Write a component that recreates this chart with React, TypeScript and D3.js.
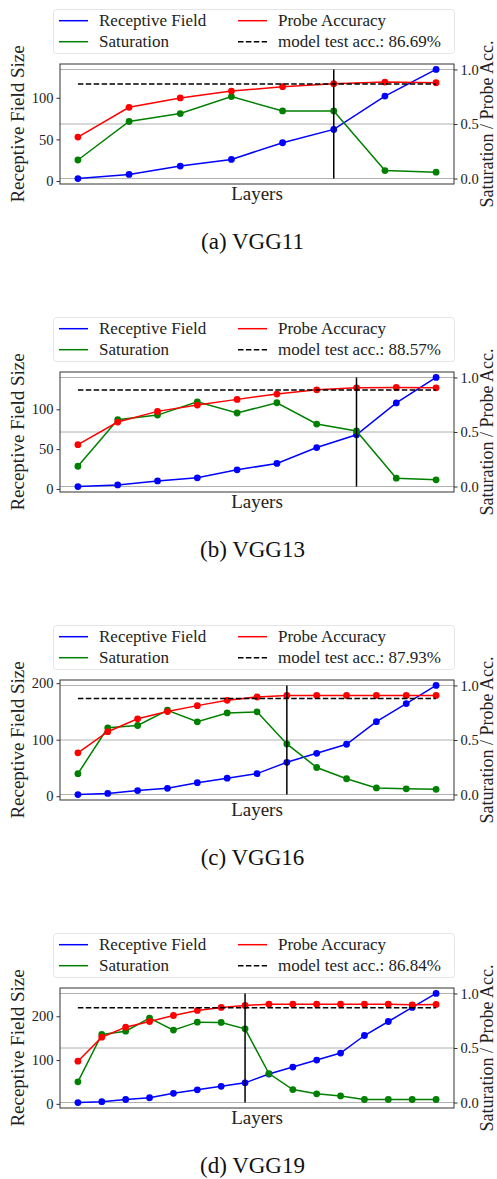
import * as d3 from 'd3';
import { useEffect, useRef } from 'react';

const BLUE = '#0000ff';
const GREEN = '#008000';
const RED = '#ff0000';
const SERIF = '"Liberation Serif", "Times New Roman", serif';

// receptive field size per layer
const receptive11 = [3, 8, 18, 26, 46, 62, 102, 134];
const receptive13 = [3, 5, 10, 14, 24, 32, 52, 68, 108, 140];
const receptive16 = [3, 5, 10, 14, 24, 32, 40, 60, 76, 92, 132, 164, 196];
const receptive19 = [3, 5, 10, 14, 24, 32, 40, 48, 68, 84, 100, 116, 156, 188, 220, 252];

// saturation per layer
const saturation11 = [0.17, 0.523, 0.596, 0.751, 0.62, 0.62, 0.073, 0.058];
const saturation13 = [0.186, 0.613, 0.655, 0.777, 0.674, 0.768, 0.573, 0.509, 0.077, 0.062];
const saturation16 = [0.191, 0.612, 0.633, 0.773, 0.667, 0.748, 0.758, 0.464, 0.248, 0.145, 0.061, 0.052, 0.048];
const saturation19 = [0.19, 0.624, 0.654, 0.774, 0.664, 0.737, 0.734, 0.676, 0.266, 0.119, 0.08, 0.061, 0.028, 0.028, 0.028, 0.028];

// probe accuracy per layer
const probe11 = [0.38, 0.653, 0.739, 0.802, 0.842, 0.869, 0.884, 0.878];
const probe13 = [0.384, 0.591, 0.689, 0.747, 0.799, 0.848, 0.887, 0.905, 0.909, 0.905];
const probe16 = [0.382, 0.576, 0.694, 0.761, 0.815, 0.864, 0.894, 0.909, 0.909, 0.909, 0.909, 0.909, 0.909];
const probe19 = [0.379, 0.599, 0.691, 0.743, 0.798, 0.844, 0.872, 0.89, 0.902, 0.902, 0.902, 0.902, 0.902, 0.902, 0.896, 0.899];

const testAcc = [0.8669, 0.8857, 0.8793, 0.8684];
const cutLayer = [5, 7, 7, 7];
const leftTicks = [[0, 50, 100], [0, 50, 100], [0, 100, 200], [0, 100, 200]];
const rightTicks = [0, 0.5, 1.0];
const captions = ['(a) VGG11', '(b) VGG13', '(c) VGG16', '(d) VGG19'];

const panels = [
    { rf: receptive11, sat: saturation11, acc: probe11 },
    { rf: receptive13, sat: saturation13, acc: probe13 },
    { rf: receptive16, sat: saturation16, acc: probe16 },
    { rf: receptive19, sat: saturation19, acc: probe19 },
];

const WIDTH = 497;
const HEIGHT = 1179;
const PANEL_STEP = 308;

function drawPanel(root: any, p: any, i: number) {
    const g = root.append('g').attr('transform', `translate(0, ${i * PANEL_STEP})`);
    const box = { left: 60, right: 454, top: 64, bottom: 184 };
    const n = p.rf.length;
    const m = 0.05 * (n - 1);

    const x = d3.scaleLinear().domain([-m, n - 1 + m]).range([box.left, box.right]);
    const [lo, hi] = d3.extent(p.rf) as any;
    const pad = (hi - lo) * 0.05;
    const yL = d3.scaleLinear().domain([lo - pad, hi + pad]).range([box.bottom, box.top]);
    const yR = d3.scaleLinear().domain([-0.05, 1.05]).range([box.bottom, box.top]);

    // grid from right axis
    g.append('g').selectAll('line').data(rightTicks).join('line')
        .attr('x1', box.left).attr('x2', box.right)
        .attr('y1', (d: number) => yR(d)).attr('y2', (d: number) => yR(d))
        .attr('stroke', '#b0b0b0').attr('stroke-width', 1);

    const series = [
        { vals: p.rf, y: yL, color: BLUE },
        { vals: p.sat, y: yR, color: GREEN },
        { vals: p.acc, y: yR, color: RED },
    ];
    series.forEach((s) => {
        const line = d3.line<number>().x((_d, j) => x(j)).y((d) => s.y(d));
        g.append('path').attr('d', line(s.vals)).attr('fill', 'none')
            .attr('stroke', s.color).attr('stroke-width', 1.5);
        g.append('g').selectAll('circle').data(s.vals).join('circle')
            .attr('cx', (_d: any, j: number) => x(j)).attr('cy', (d: number) => s.y(d))
            .attr('r', 3.4).attr('fill', s.color);
    });

    // model test accuracy
    g.append('line')
        .attr('x1', x(0)).attr('x2', x(n - 1))
        .attr('y1', yR(testAcc[i])).attr('y2', yR(testAcc[i]))
        .attr('stroke', '#000').attr('stroke-width', 1.5).attr('stroke-dasharray', '5.5,2.4');

    // vertical marker
    g.append('line')
        .attr('x1', x(cutLayer[i])).attr('x2', x(cutLayer[i]))
        .attr('y1', yR(0)).attr('y2', yR(1))
        .attr('stroke', '#000').attr('stroke-width', 1.5);

    g.append('rect')
        .attr('x', box.left).attr('y', box.top)
        .attr('width', box.right - box.left).attr('height', box.bottom - box.top)
        .attr('fill', 'none').attr('stroke', '#333').attr('stroke-width', 1);

    const axL = g.append('g').attr('transform', `translate(${box.left},0)`)
        .call(d3.axisLeft(yL).tickValues(leftTicks[i]).tickSize(3.5).tickPadding(3).tickFormat(d3.format('d')));
    const axR = g.append('g').attr('transform', `translate(${box.right},0)`)
        .call(d3.axisRight(yR).tickValues(rightTicks).tickSize(3.5).tickPadding(3).tickFormat(d3.format('.1f')));
    [axL, axR].forEach((ax) => {
        ax.attr('font-family', null).attr('font-size', null);
        ax.select('.domain').remove();
        ax.selectAll('line').attr('stroke', '#333');
        ax.selectAll('text').style('font-family', SERIF).style('font-size', '14.5px').attr('fill', '#222');
    });

    // axis labels
    const label = (sel: any, size: number) => sel.attr('text-anchor', 'middle').style('font-family', SERIF)
        .style('font-size', `${size}px`).attr('fill', '#222');
    g.append('text').attr('transform', `translate(24, ${(box.top + box.bottom) / 2}) rotate(-90)`)
        .call(label, 19).text('Receptive Field Size');
    g.append('text').attr('transform', `translate(492.5, ${(box.top + box.bottom) / 2}) rotate(-90)`)
        .call(label, 18).text('Saturation / Probe Acc.');
    g.append('text').attr('x', (box.left + box.right) / 2).attr('y', 200)
        .call(label, 19).text('Layers');

    // legend
    const lg = g.append('g');
    lg.append('rect').attr('x', 53.5).attr('y', 9.5).attr('width', 401).attr('height', 44).attr('rx', 3)
        .attr('fill', '#fff').attr('fill-opacity', 0.8).attr('stroke', '#e6e6e6');
    const entries = [
        { label: 'Receptive Field', color: BLUE, dash: null, cx: 59, cy: 20.7 },
        { label: 'Saturation', color: GREEN, dash: null, cx: 59, cy: 41.7 },
        { label: 'Probe Accuracy', color: RED, dash: null, cx: 238, cy: 20.7 },
        { label: `model test acc.: ${(testAcc[i] * 100).toFixed(2)}%`, color: '#000', dash: '5.5,2.4', cx: 238, cy: 41.7 },
    ];
    entries.forEach((e) => {
        lg.append('line').attr('x1', e.cx).attr('x2', e.cx + 29).attr('y1', e.cy).attr('y2', e.cy)
            .attr('stroke', e.color).attr('stroke-width', 1.5).attr('stroke-dasharray', e.dash);
        lg.append('text').attr('x', e.cx + 40).attr('y', e.cy).attr('dy', '0.33em')
            .style('font-family', SERIF).style('font-size', '17px').attr('fill', '#222').text(e.label);
    });

    // caption
    g.append('text').attr('x', 252.5).attr('y', 249).attr('text-anchor', 'middle')
        .style('font-family', SERIF).style('font-size', '23px').attr('fill', '#111')
        .text(captions[i]);
}

export default function App() {
    const ref = useRef<any>(null);

    useEffect(() => {
        const svg = d3.select(ref.current);
        svg.selectAll('*').remove();
        svg.append('rect').attr('width', WIDTH).attr('height', HEIGHT).attr('fill', '#fff');
        panels.forEach((p, i) => drawPanel(svg, p, i));
    }, []);

    return (
        <svg ref={ref} width={WIDTH} height={HEIGHT}
            style={{ position: 'absolute', left: 0, top: 0, display: 'block' }} />
    );
}
